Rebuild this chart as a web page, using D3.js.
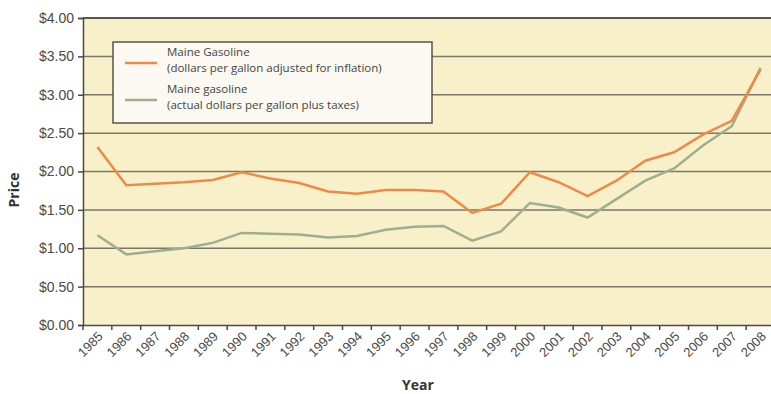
<!DOCTYPE html>
<html>
<head>
<meta charset="utf-8">
<script src="https://cdn.jsdelivr.net/npm/d3@7"></script>
<style>
  body { margin: 0; background: #fff; }
  svg { display: block; font-family: "Open Sans", "Noto Sans", sans-serif; }
</style>
</head>
<body>
<svg id="render" width="771" height="394"></svg>
<script>
const years = d3.range(1985, 2009);
const adjusted = [2.32, 1.82, 1.84, 1.86, 1.89, 1.99, 1.91, 1.85, 1.74, 1.71, 1.76, 1.76, 1.74,
    1.46, 1.58, 1.99, 1.86, 1.68, 1.88, 2.14, 2.25, 2.48, 2.66, 3.33];
const actual = [1.17, 0.92, 0.96, 1.00, 1.07, 1.20, 1.19, 1.18, 1.14, 1.16, 1.24, 1.28, 1.29,
    1.10, 1.22, 1.59, 1.53, 1.40, 1.64, 1.88, 2.04, 2.34, 2.59, 3.35];
const yTicks = [0, 0.5, 1, 1.5, 2, 2.5, 3, 3.5, 4];

const svg = d3.select("svg#render");
const plotL = 83, plotR = 775, plotT = 18, plotB = 325;

const x = d3.scaleBand().domain(years).range([plotL, plotR]);
const y = d3.scaleLinear().domain([0, 4]).range([plotB, plotT]);
const bw = x.bandwidth();

// plot background
svg.append("rect")
    .attr("x", plotL).attr("y", plotT)
    .attr("width", plotR - plotL).attr("height", plotB - plotT)
    .attr("fill", "#f8f0c9");

// gridlines
svg.append("g")
    .selectAll("line")
    .data(yTicks.filter(d => d > 0))
    .enter()
    .append("line")
    .attr("x1", plotL).attr("x2", 771)
    .attr("y1", d => y(d)).attr("y2", d => y(d))
    .attr("stroke", d => d === 4 ? "#5a5850" : "#7a786a")
    .attr("stroke-width", d => d === 4 ? 2 : 1.5);

// y axis
const yAxis = svg.append("g")
    .attr("transform", `translate(${plotL},0)`)
    .call(d3.axisLeft(y).tickValues(yTicks).tickSize(5).tickFormat(d => "$" + d3.format(".2f")(d)));
yAxis.select(".domain").attr("stroke", "#4a4a44").attr("stroke-width", 1.5);
yAxis.selectAll(".tick line").attr("stroke", "#4a4a44").attr("stroke-width", 1.5);
yAxis.selectAll("text")
    .attr("x", -9)
    .attr("fill", "#4a4a4a")
    .style("font-size", "14px");

// x axis
const xAxis = svg.append("g")
    .attr("transform", `translate(0,${plotB})`)
    .call(d3.axisBottom(x).tickSize(5).tickSizeOuter(0));
xAxis.select(".domain").attr("stroke", "#4a4a44").attr("stroke-width", 1.5);
xAxis.selectAll(".tick line")
    .attr("x1", -bw / 2).attr("x2", -bw / 2)
    .attr("stroke", "#4a4a44").attr("stroke-width", 1.5);
xAxis.selectAll("text")
    .attr("fill", "#4a4a4a")
    .style("font-size", "13px")
    .attr("text-anchor", "end")
    .attr("transform", "translate(3,9) rotate(-45)")
    .attr("dy", "0.35em")
    .attr("y", 0);

// lines
const line = d3.line()
    .x((d, i) => x(years[i]) + bw / 2)
    .y(d => y(d));

svg.append("path")
    .datum(actual)
    .attr("d", line)
    .attr("fill", "none")
    .attr("stroke", "#9fae8e")
    .attr("stroke-width", 2.5);

svg.append("path")
    .datum(adjusted)
    .attr("d", line)
    .attr("fill", "none")
    .attr("stroke", "#ee8a48")
    .attr("stroke-width", 2.5);

// legend
const lg = svg.append("g");
lg.append("rect")
    .attr("x", 113).attr("y", 42)
    .attr("width", 319).attr("height", 81)
    .attr("fill", "#fbf9f1")
    .attr("stroke", "#55534c").attr("stroke-width", 1.5);

const legendItems = [
    {color: "#ee8a48", y: 63, l1: "Maine Gasoline", l2: "(dollars per gallon adjusted for inflation)"},
    {color: "#9fae8e", y: 100, l1: "Maine gasoline", l2: "(actual dollars per gallon plus taxes)"}
];
const li = lg.selectAll(".item")
    .data(legendItems)
    .enter()
    .append("g");
li.append("line")
    .attr("x1", 125).attr("x2", 157)
    .attr("y1", d => d.y).attr("y2", d => d.y)
    .attr("stroke", d => d.color)
    .attr("stroke-width", 2.5);
li.append("text")
    .attr("x", 167).attr("y", d => d.y - 7)
    .attr("fill", "#444")
    .style("font-size", "11.5px")
    .text(d => d.l1);
li.append("text")
    .attr("x", 167).attr("y", d => d.y + 9)
    .attr("fill", "#444")
    .style("font-size", "11.5px")
    .text(d => d.l2);

// axis titles
svg.append("text")
    .attr("transform", "translate(19,190) rotate(-90)")
    .attr("text-anchor", "middle")
    .attr("fill", "#333")
    .style("font-size", "14px")
    .style("font-weight", "bold")
    .text("Price");

svg.append("text")
    .attr("x", 418).attr("y", 390)
    .attr("text-anchor", "middle")
    .attr("fill", "#333")
    .style("font-size", "14px")
    .style("font-weight", "bold")
    .text("Year");
</script>
</body>
</html>
